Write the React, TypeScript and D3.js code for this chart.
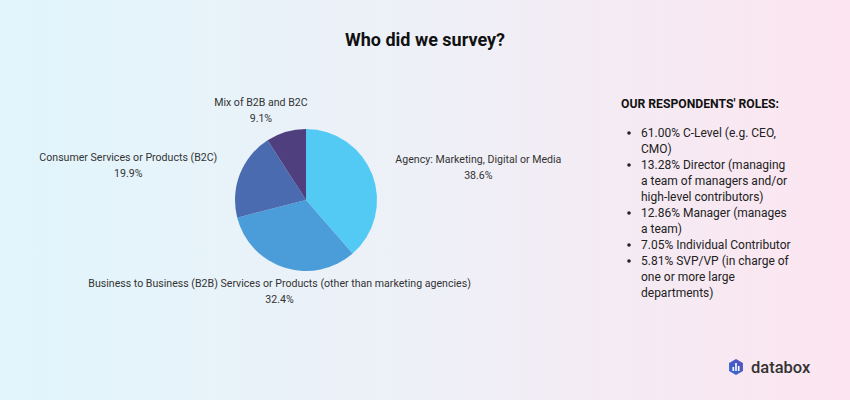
import React from "react";
import * as d3 from "d3";

const categories = [
  "Agency: Marketing, Digital or Media",
  "Business to Business (B2B) Services or Products (other than marketing agencies)",
  "Consumer Services or Products (B2C)",
  "Mix of B2B and B2C",
];
const shares = [38.6, 32.4, 19.9, 9.1];
const sliceColors = ["#53CAF4", "#4A9DD9", "#4B6BB1", "#4F3F7F"];
const roles = [
  ["61.00% C-Level (e.g. CEO,", "CMO)"],
  ["13.28% Director (managing", "a team of managers and/or", "high-level contributors)"],
  ["12.86% Manager (manages", "a team)"],
  ["7.05% Individual Contributor"],
  ["5.81% SVP/VP (in charge of", "one or more large", "departments)"],
];
// label layout nudges (layout only)
const labelNudge = [
  { anchor: "start", dx: 6, dy: -2 },
  { anchor: "middle", dx: 0, dy: -2 },
  { anchor: "end", dx: -6, dy: -3 },
  { anchor: "middle", dx: -20, dy: 11 },
];

const W = 850;
const H = 400;
const cx = 306;
const cy = 200;
const R = 71;

export default function App() {
  React.useEffect(() => {
    document.body.style.margin = "0";
  }, []);
  const pie = d3.pie<number>().sort(null).value((d) => d);
  const arcs = pie(shares);
  const arcGen = d3.arc<d3.PieArcDatum<number>>().innerRadius(0).outerRadius(R);
  const font = "Roboto, 'Noto Sans', sans-serif";
  const lh = 16;
  let lineIdx = 0;
  return (
    <svg width={W} height={H} style={{ display: "block" }} fontFamily={font}>
      <defs>
        <linearGradient id="bg" x1="0" x2="1" y1="0" y2="0">
          <stop offset="0%" stopColor="#E1F5FC" />
          <stop offset="50%" stopColor="#EEF0F7" />
          <stop offset="100%" stopColor="#FCE5F0" />
        </linearGradient>
        <linearGradient id="logo" x1="0" x2="1" y1="1" y2="0">
          <stop offset="0%" stopColor="#2F6BD8" />
          <stop offset="100%" stopColor="#5A4FB8" />
        </linearGradient>
      </defs>
      <rect width={W} height={H} fill="url(#bg)" />
      <text x={425} y={46} textAnchor="middle" fontSize={18} fontWeight="bold" fill="#111">
        Who did we survey?
      </text>
      <g transform={`translate(${cx},${cy})`}>
        {arcs.map((a, i) => (
          <path key={i} d={arcGen(a) || ""} fill={sliceColors[i]} />
        ))}
        {arcs.map((a, i) => {
          const mid = (a.startAngle + a.endAngle) / 2;
          const rr = R + 18;
          const n = labelNudge[i];
          const x = Math.sin(mid) * rr + n.dx;
          const y = -Math.cos(mid) * rr + n.dy;
          const c = Math.cos(mid);
          let y0 = y - 4;
          if (c > 0.5) y0 = y - 20;
          else if (c < -0.5) y0 = y + 4;
          return (
            <g key={"l" + i} fontSize={10.6} fill="#333">
              <LabelBlock x={x} y={y0} anchor={n.anchor} lines={[categories[i], shares[i].toFixed(1) + "%"]} />
            </g>
          );
        })}
      </g>
      <text x={621} y={108} fontSize={12.2} fontWeight="bold" fill="#111">
        OUR RESPONDENTS' ROLES:
      </text>
      <g fontSize={12} fill="#222">
        {roles.map((r, i) => {
          const start = lineIdx;
          lineIdx += r.length;
          return (
            <g key={i}>
              <circle cx={629} cy={137 + start * lh - 4} r={1.8} fill="#222" />
              {r.map((t, j) => (
                <text key={j} x={641} y={137 + (start + j) * lh}>
                  {t}
                </text>
              ))}
            </g>
          );
        })}
      </g>
      <g transform="translate(736,367)">
        <path
          d={d3.range(6).map((k) => {
            const ang = (Math.PI / 3) * k;
            return (k === 0 ? "M" : "L") + (Math.sin(ang) * 8).toFixed(2) + "," + (-Math.cos(ang) * 8).toFixed(2);
          }).join("") + "Z"}
          fill="url(#logo)"
        />
        <rect x={-3.5} y={0} width={1.6} height={4} fill="#fff" />
        <rect x={-0.8} y={-4} width={1.6} height={8} fill="#fff" />
        <rect x={1.9} y={-1} width={1.6} height={5} fill="#fff" />
      </g>
      <text x={751} y={373} fontSize={16.5} fontWeight={500} fill="#333">
        databox
      </text>
    </svg>
  );
}

function LabelBlock({ x, y, anchor, lines }: { x: number; y: number; anchor: string; lines: string[] }) {
  const ref = React.useRef<SVGGElement>(null);
  const [w, setW] = React.useState(0);
  React.useLayoutEffect(() => {
    if (ref.current) {
      const t = ref.current.querySelector("text");
      if (t) setW((t as SVGTextElement).getComputedTextLength());
    }
  }, []);
  let cxp = x;
  if (anchor === "start") cxp = x + w / 2;
  if (anchor === "end") cxp = x - w / 2;
  return (
    <g ref={ref}>
      {lines.map((l, k) => (
        <text key={k} x={cxp} y={y + k * 16} textAnchor="middle">
          {l}
        </text>
      ))}
    </g>
  );
}
